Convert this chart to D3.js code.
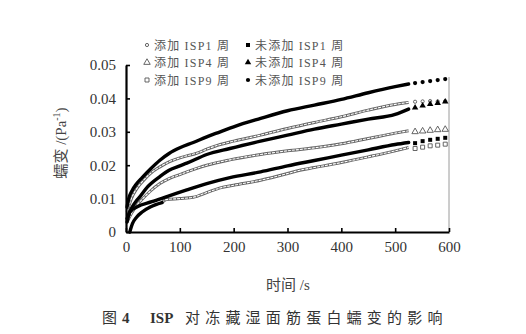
<!DOCTYPE html>
<html><head><meta charset="utf-8">
<script src="https://cdn.jsdelivr.net/npm/d3@7"></script>
<style>
html,body{margin:0;padding:0;background:#fff;}
svg{display:block;}
</style></head>
<body>
<svg id="c" width="526" height="334"></svg>
<script>
// ---- data (time in s, creep compliance in Pa^-1) ----
const xTicks = [0,100,200,300,400,500,600];
const yTicks = [0,0.01,0.02,0.03,0.04,0.05];
const tailTimes = [537,551,565,579,593];

// 未添加ISP9周 (filled circle)
const noIsp9 = [[2,0.0075],[5,0.0100],[10,0.0120],[20,0.0145],[30,0.0163],[45,0.0188],[63,0.0215],[80,0.0235],[100,0.0252],[125,0.0268],[150,0.0285],[175,0.0300],[200,0.0315],[250,0.0340],[300,0.0363],[350,0.0380],[400,0.0397],[450,0.0417],[500,0.0435],[525,0.0443]];
const noIsp9Tail = [0.0446,0.0449,0.0452,0.0455,0.0458];
// 添加ISP1周 (small open marker)
const addIsp1 = [[2,0.0060],[10,0.0100],[20,0.0130],[30,0.0150],[45,0.0175],[63,0.0195],[80,0.0210],[100,0.0222],[113,0.0228],[130,0.0235],[150,0.0248],[175,0.0262],[200,0.0272],[250,0.0290],[300,0.0310],[350,0.0328],[400,0.0345],[450,0.0365],[500,0.0382],[525,0.0388]];
const addIsp1Tail = [0.0390,0.0391,0.0392,0.0391,0.0392];
// 未添加ISP4周 (filled triangle)
const noIsp4 = [[2,0.0040],[10,0.0070],[20,0.0095],[26,0.0106],[40,0.0135],[63,0.0166],[80,0.0185],[100,0.0198],[113,0.0206],[150,0.0232],[193,0.0250],[250,0.0272],[300,0.0290],[350,0.0308],[400,0.0323],[450,0.0338],[500,0.0352],[525,0.0368]];
const noIsp4Tail = [0.0372,0.0378,0.0383,0.0386,0.0390];
// 添加ISP4周 (open triangle)
const addIsp4 = [[2,0.0030],[10,0.0055],[20,0.0080],[30,0.0098],[45,0.0122],[63,0.0145],[80,0.0160],[100,0.0172],[113,0.0180],[150,0.0200],[193,0.0216],[250,0.0232],[300,0.0243],[350,0.0252],[400,0.0264],[450,0.0280],[500,0.0296],[525,0.0303]];
const addIsp4Tail = [0.0300,0.0302,0.0304,0.0306,0.0307];
// 未添加ISP1周 (filled square)
const noIsp1 = [[2,0.0030],[7,0.0060],[20,0.0075],[48,0.0091],[80,0.0108],[113,0.0126],[150,0.0145],[193,0.0163],[250,0.0180],[300,0.0198],[350,0.0214],[400,0.0230],[450,0.0246],[500,0.0262],[525,0.0268]];
const noIsp1Tail = [0.0266,0.0272,0.0276,0.0279,0.0282];
// 添加ISP9周 (open square)
const addIsp9 = [[7,0.0000],[12,0.0025],[20,0.0045],[30,0.0060],[45,0.0075],[67,0.0088],[75,0.0097],[100,0.0100],[125,0.0104],[150,0.0118],[175,0.0132],[200,0.0140],[250,0.0155],[300,0.0175],[323,0.0185],[350,0.0193],[400,0.0208],[450,0.0225],[500,0.0243],[525,0.0253]];
const addIsp9Tail = [0.0250,0.0254,0.0258,0.0260,0.0263];

const legendLabels = ["添加 ISP1 周","未添加 ISP1 周","添加 ISP4 周","未添加 ISP4 周","添加 ISP9 周","未添加 ISP9 周"];

// ---- chart ----
const svg = d3.select("#c");
const x = d3.scaleLinear().domain([0,600]).range([126,449]);
const y = d3.scaleLinear().domain([0,0.05]).range([232,65]);
const serif = "'Liberation Serif','Times New Roman','Noto Sans CJK SC',serif";
const cjk = "'Liberation Serif','Noto Sans CJK SC',sans-serif";

// thin right border
svg.append("line").attr("x1",x(600)).attr("x2",x(600)).attr("y1",77).attr("y2",y(0))
  .attr("stroke","#9a9a9a").attr("stroke-width",1);

const line = d3.line().x(d=>x(d[0])).y(d=>y(d[1])).curve(d3.curveMonotoneX);

function drawSolid(data){
  svg.append("path").datum(data).attr("d",line).attr("fill","none")
    .attr("stroke","#000").attr("stroke-width",3.4).attr("stroke-linecap","round");
}
function drawOpen(data){
  svg.append("path").datum(data).attr("d",line).attr("fill","none")
    .attr("stroke","#666").attr("stroke-width",3.0);
  svg.append("path").datum(data).attr("d",line).attr("fill","none")
    .attr("stroke","#fff").attr("stroke-width",1.1).attr("stroke-dasharray","3,1");
}

const sym = {
  circle: d3.symbol().type(d3.symbolCircle).size(14),
  square: d3.symbol().type(d3.symbolSquare).size(16),
  tri: d3.symbol().type(d3.symbolTriangle).size(18),
  small: d3.symbol().type(d3.symbolCircle).size(8)
};
function drawMarks(vals, shape, filled){
  svg.append("g").selectAll("path").data(vals).join("path")
    .attr("transform",(v,i)=>`translate(${x(tailTimes[i])},${y(v)})`)
    .attr("d",sym[shape])
    .attr("fill",filled?"#000":"#fff")
    .attr("stroke",filled?"none":"#555").attr("stroke-width",0.9);
}

// open series
drawOpen(addIsp1);
drawOpen(addIsp4);
drawOpen(addIsp9.filter(d=>d[0]>=67));
drawSolid(addIsp9.filter(d=>d[0]<=67));
// solid series
drawSolid(noIsp9);
drawSolid(noIsp4);
drawSolid(noIsp1);

drawMarks(noIsp9Tail,"circle",true);
drawMarks(addIsp1Tail,"small",false);
drawMarks(noIsp4Tail,"tri",true);
drawMarks(addIsp4Tail,"tri",false);
drawMarks(noIsp1Tail,"square",true);
drawMarks(addIsp9Tail,"square",false);

// axes
const gx = svg.append("g").attr("transform",`translate(0,${y(0)})`)
  .call(d3.axisBottom(x).tickValues(xTicks).tickSizeInner(-4).tickSizeOuter(0).tickPadding(9).tickFormat(d3.format("d")));
const gy = svg.append("g").attr("transform",`translate(${x(0)},0)`)
  .call(d3.axisLeft(y).tickValues(yTicks).tickSizeInner(-4).tickSizeOuter(0).tickPadding(10).tickFormat(d=>d===0?"0":d3.format(".2f")(d)));
[gx,gy].forEach(g=>{
  g.select(".domain").attr("stroke","#000").attr("stroke-width",2.2);
  g.selectAll(".tick line").attr("stroke","#000").attr("stroke-width",1.6);
  g.selectAll(".tick text").attr("font-family",serif).attr("font-size",15).attr("fill","#333");
});
gx.selectAll(".tick text").attr("dy","0.75em");

// legend
const legShapes = [["small",false],["square",true],["tri",false],["tri",true],["square",false],["circle",true]];
legendLabels.forEach((lab,i)=>{
  const col = i%2, row = Math.floor(i/2);
  const mx = col===0?147:248, my = 45 + row*17.5;
  svg.append("path").attr("transform",`translate(${mx},${my})`)
    .attr("d",sym[legShapes[i][0]])
    .attr("fill",legShapes[i][1]?"#000":"#fff")
    .attr("stroke",legShapes[i][1]?"none":"#555").attr("stroke-width",0.9);
  svg.append("text").attr("x",mx+7).attr("y",my+4.5).text(lab)
    .attr("font-family",cjk).attr("font-size",12).attr("letter-spacing",1.2).attr("fill","#555");
});

// axis titles
const yt = svg.append("text").attr("transform","translate(66,143) rotate(-90)")
  .attr("text-anchor","middle").attr("font-family",cjk).attr("font-size",15).attr("fill","#444");
yt.append("tspan").text("蠕变 /(Pa");
yt.append("tspan").attr("font-size",10).attr("dy",-6).text("-1");
yt.append("tspan").attr("dy",6).text(")");

svg.append("text").attr("x",288).attr("y",290).attr("text-anchor","middle")
  .attr("font-family",cjk).attr("font-size",15).attr("fill","#444").text("时间 /s");

// caption
const cap = svg.append("text").attr("y",323).attr("font-family",cjk).attr("font-size",15).attr("fill","#333");
cap.append("tspan").attr("x",102).text("图");
cap.append("tspan").attr("x",122).attr("font-weight","bold").text("4");
cap.append("tspan").attr("x",150).attr("font-weight","bold").text("ISP");
cap.append("tspan").attr("x",185).attr("letter-spacing",5.2).text("对冻藏湿面筋蛋白蠕变的影响");
</script>
</body></html>
